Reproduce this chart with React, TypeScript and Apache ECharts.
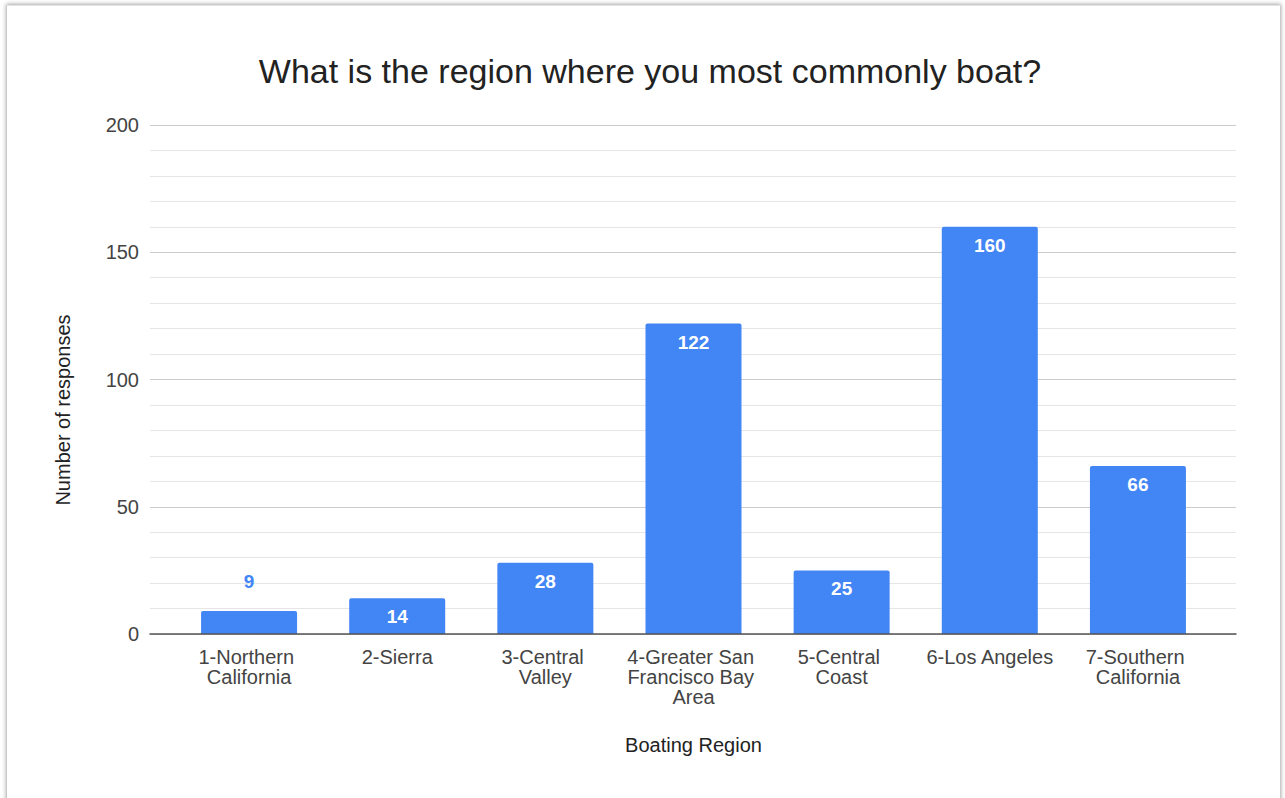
import React, { useEffect, useRef } from "react";
import * as echarts from "echarts";

const categories = [
  "1-Northern California",
  "2-Sierra",
  "3-Central Valley",
  "4-Greater San Francisco Bay Area",
  "5-Central Coast",
  "6-Los Angeles",
  "7-Southern California",
];
const responses = [9, 14, 28, 122, 25, 160, 66];
const yTicks = [0, 50, 100, 150, 200];

const titleText = "What is the region where you most commonly boat?";
const xAxisName = "Boating Region";
const yAxisName = "Number of responses";

const BLUE = "#4285F4";
const FONT = "Arial, 'Liberation Sans', sans-serif";

export default function App() {
  const ref = useRef<HTMLDivElement>(null);

  useEffect(() => {
    if (!ref.current) return;
    const chart = echarts.init(ref.current, undefined, { renderer: "svg" });
    const yMin = yTicks[0];
    const yMax = yTicks[yTicks.length - 1];
    const yInterval = yTicks[1] - yTicks[0];

    const barData = responses.map((v) => {
      const small = v < 12;
      return {
        value: v,
        label: small
          ? {
              show: true,
              position: "top",
              distance: 20,
              color: BLUE,
              fontWeight: "bold",
              fontSize: 19,
              fontFamily: FONT,
            }
          : {
              show: true,
              position: "insideTop",
              distance: 9,
              color: "#ffffff",
              fontWeight: "bold",
              fontSize: 19,
              fontFamily: FONT,
            },
      };
    });

    chart.setOption({
      animation: false,
      backgroundColor: "transparent",
      textStyle: { fontFamily: FONT },
      title: {
        text: titleText,
        left: 645,
        top: 49,
        textAlign: "center",
        textStyle: {
          fontSize: 34,
          fontWeight: "normal",
          color: "#222222",
          fontFamily: FONT,
        },
      },
      grid: [
        { left: 150, right: 49, top: 125, bottom: 164, containLabel: false },
        { left: 175, right: 73, top: 125, bottom: 164, containLabel: false },
      ],
      xAxis: [
        {
          type: "category",
          gridIndex: 0,
          data: [""],
          axisLine: { show: true, lineStyle: { color: "#555555", width: 1.5 } },
          axisTick: { show: false },
          axisLabel: { show: false },
          splitLine: { show: false },
          z: 5,
        },
        {
          type: "category",
          gridIndex: 1,
          data: categories,
          axisLine: { show: false },
          axisTick: { show: false },
          axisLabel: {
            show: true,
            interval: 0,
            color: "#444444",
            fontSize: 20,
            fontFamily: FONT,
            lineHeight: 20,
            width: 137,
            overflow: "break",
            margin: 13,
          },
          name: xAxisName,
          nameLocation: "middle",
          nameGap: 101,
          nameTextStyle: { color: "#222222", fontSize: 20, fontFamily: FONT },
        },
      ],
      yAxis: [
        {
          type: "value",
          gridIndex: 0,
          min: yMin,
          max: yMax,
          interval: yInterval,
          axisLine: { show: false },
          axisTick: { show: false },
          axisLabel: {
            color: "#444444",
            fontSize: 20,
            fontFamily: FONT,
            margin: 11,
          },
          splitLine: { show: true, lineStyle: { color: "#cccccc", width: 1 } },
          minorTick: { show: false, splitNumber: 5 },
          minorSplitLine: { show: true, lineStyle: { color: "#e6e6e6", width: 1 } },
        },
        {
          type: "value",
          gridIndex: 1,
          min: yMin,
          max: yMax,
          interval: yInterval,
          show: false,
          splitLine: { show: false },
        },
      ],
      graphic: [
        {
          type: "text",
          x: 63,
          y: 410,
          rotation: Math.PI / 2,
          style: {
            text: yAxisName,
            fill: "#222222",
            fontSize: 20,
            fontFamily: FONT,
            align: "center",
            verticalAlign: "middle",
          },
        },
      ],
      series: [
        {
          type: "bar",
          xAxisIndex: 1,
          yAxisIndex: 1,
          data: barData,
          barWidth: 96,
          itemStyle: { color: BLUE, borderRadius: [2, 2, 0, 0] },
          z: 3,
        },
      ],
    });

    return () => chart.dispose();
  }, []);

  return (
    <div
      style={{
        position: "fixed",
        left: 0,
        top: 0,
        width: 1285,
        height: 798,
        overflow: "hidden",
        background: "#ffffff",
      }}
    >
      <div
        style={{
          position: "absolute",
          left: 7,
          top: 5,
          width: 1273,
          height: 900,
          background: "#ffffff",
          borderTop: "1px solid #e4e4e4",
          boxShadow: "0 0 4px 1px rgba(0,0,0,0.35)",
        }}
      />
      <div
        ref={ref}
        style={{ position: "absolute", left: 0, top: 0, width: 1285, height: 798 }}
      />
    </div>
  );
}
